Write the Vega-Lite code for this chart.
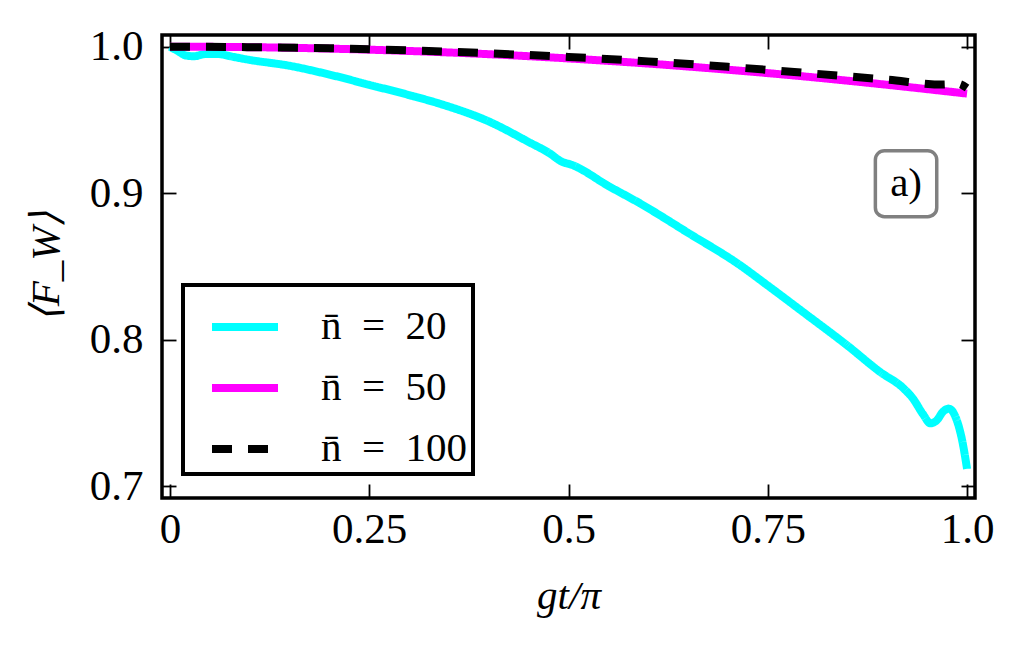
{
  "$schema": "https://vega.github.io/schema/vega-lite/v6.json",
  "width": 813,
  "height": 463,
  "autosize": {"type": "none"},
  "padding": {"left": 162, "top": 35, "right": 49, "bottom": 149},
  "background": "white",
  "config": {
    "view": {"stroke": "black", "strokeWidth": 3.5},
    "font": "Liberation Serif",
    "axis": {
      "grid": false,
      "domain": false,
      "tickColor": "black",
      "tickWidth": 1.8,
      "tickSize": -14,
      "labelFont": "Liberation Serif",
      "labelFontSize": 43,
      "labelColor": "black",
      "titleFont": "Liberation Serif",
      "titleFontSize": 41,
      "titleFontWeight": "normal",
      "titleFontStyle": "italic",
      "titleColor": "black"
    },
    "legend": {
      "strokeColor": "black",
      "strokeWidth": 4,
      "fillColor": "white",
      "padding": 5,
      "symbolOffset": 20,
      "labelOffset": 39,
      "rowPadding": 4,
      "symbolType": "stroke",
      "symbolSize": 4356,
      "symbolStrokeWidth": 8,
      "labelFont": "Liberation Serif",
      "labelFontSize": 41,
      "labelColor": "black",
      "labelLimit": 400
    }
  },
  "data": {
    "values": [
      {"series": "n̄ = 20", "t": 0.0, "F": 1.0},
      {"series": "n̄ = 20", "t": 0.01, "F": 0.997},
      {"series": "n̄ = 20", "t": 0.02, "F": 0.994},
      {"series": "n̄ = 20", "t": 0.03, "F": 0.9935},
      {"series": "n̄ = 20", "t": 0.045, "F": 0.995},
      {"series": "n̄ = 20", "t": 0.06, "F": 0.995},
      {"series": "n̄ = 20", "t": 0.08, "F": 0.993},
      {"series": "n̄ = 20", "t": 0.1, "F": 0.991},
      {"series": "n̄ = 20", "t": 0.15, "F": 0.987},
      {"series": "n̄ = 20", "t": 0.2, "F": 0.981},
      {"series": "n̄ = 20", "t": 0.25, "F": 0.974},
      {"series": "n̄ = 20", "t": 0.3, "F": 0.967},
      {"series": "n̄ = 20", "t": 0.339, "F": 0.961},
      {"series": "n̄ = 20", "t": 0.4, "F": 0.949},
      {"series": "n̄ = 20", "t": 0.45, "F": 0.935},
      {"series": "n̄ = 20", "t": 0.477, "F": 0.927},
      {"series": "n̄ = 20", "t": 0.49, "F": 0.922},
      {"series": "n̄ = 20", "t": 0.506, "F": 0.919},
      {"series": "n̄ = 20", "t": 0.55, "F": 0.905},
      {"series": "n̄ = 20", "t": 0.59, "F": 0.893},
      {"series": "n̄ = 20", "t": 0.65, "F": 0.873},
      {"series": "n̄ = 20", "t": 0.715, "F": 0.851},
      {"series": "n̄ = 20", "t": 0.75, "F": 0.837},
      {"series": "n̄ = 20", "t": 0.799, "F": 0.817},
      {"series": "n̄ = 20", "t": 0.85, "F": 0.796},
      {"series": "n̄ = 20", "t": 0.891, "F": 0.778},
      {"series": "n̄ = 20", "t": 0.92, "F": 0.767},
      {"series": "n̄ = 20", "t": 0.932, "F": 0.76},
      {"series": "n̄ = 20", "t": 0.945, "F": 0.749},
      {"series": "n̄ = 20", "t": 0.954, "F": 0.743},
      {"series": "n̄ = 20", "t": 0.962, "F": 0.745},
      {"series": "n̄ = 20", "t": 0.97, "F": 0.751},
      {"series": "n̄ = 20", "t": 0.977, "F": 0.753},
      {"series": "n̄ = 20", "t": 0.985, "F": 0.748},
      {"series": "n̄ = 20", "t": 0.994, "F": 0.731},
      {"series": "n̄ = 20", "t": 1.0, "F": 0.712},
      {"series": "n̄ = 50", "t": 0.0, "F": 1.0},
      {"series": "n̄ = 50", "t": 0.1, "F": 0.9997},
      {"series": "n̄ = 50", "t": 0.2, "F": 0.9987},
      {"series": "n̄ = 50", "t": 0.3, "F": 0.9971},
      {"series": "n̄ = 50", "t": 0.4, "F": 0.9949},
      {"series": "n̄ = 50", "t": 0.5, "F": 0.992},
      {"series": "n̄ = 50", "t": 0.6, "F": 0.9885},
      {"series": "n̄ = 50", "t": 0.7, "F": 0.9843},
      {"series": "n̄ = 50", "t": 0.8, "F": 0.9795},
      {"series": "n̄ = 50", "t": 0.9, "F": 0.974},
      {"series": "n̄ = 50", "t": 1.0, "F": 0.968},
      {"series": "n̄ = 100", "t": 0.0, "F": 1.0},
      {"series": "n̄ = 100", "t": 0.1, "F": 0.9997},
      {"series": "n̄ = 100", "t": 0.2, "F": 0.999},
      {"series": "n̄ = 100", "t": 0.3, "F": 0.9975},
      {"series": "n̄ = 100", "t": 0.4, "F": 0.9955},
      {"series": "n̄ = 100", "t": 0.5, "F": 0.993},
      {"series": "n̄ = 100", "t": 0.6, "F": 0.99},
      {"series": "n̄ = 100", "t": 0.7, "F": 0.9863},
      {"series": "n̄ = 100", "t": 0.8, "F": 0.982},
      {"series": "n̄ = 100", "t": 0.9, "F": 0.9775},
      {"series": "n̄ = 100", "t": 0.97, "F": 0.9742},
      {"series": "n̄ = 100", "t": 0.988, "F": 0.9748},
      {"series": "n̄ = 100", "t": 1.0, "F": 0.9718}
    ]
  },
  "layer": [
    {
      "mark": {"type": "line", "interpolate": "monotone", "strokeCap": "butt"},
      "encoding": {
        "x": {
          "field": "t", "type": "quantitative",
          "scale": {"domain": [-0.01, 1.01], "nice": false, "zero": false},
          "axis": {
            "orient": "bottom",
            "values": [0, 0.25, 0.5, 0.75, 1],
            "labelExpr": "datum.value == 0 ? '0' : datum.value == 1 ? '1.0' : format(datum.value, '~g')",
            "labelPadding": 24,
            "title": "gt/π",
            "titleY": 110,
            "titleBaseline": "alphabetic"
          }
        },
        "y": {
          "field": "F", "type": "quantitative",
          "scale": {"domain": [0.692, 1.008], "nice": false, "zero": false},
          "axis": {
            "orient": "left",
            "values": [0.7, 0.8, 0.9, 1.0],
            "format": ".1f",
            "labelPadding": 33,
            "title": "⟨F_W⟩",
            "titleX": -116,
            "titleY": 231,
            "titleBaseline": "middle"
          }
        },
        "color": {
          "field": "series", "type": "nominal",
          "scale": {"domain": ["n̄ = 20", "n̄ = 50", "n̄ = 100"], "range": ["#00ffff", "#ff00ff", "#000000"]},
          "legend": {"orient": "none", "legendX": 21, "legendY": 250, "title": null, "labelExpr": "replace(datum.label, ' = ', '\u2002=\u2002')"}
        },
        "strokeDash": {
          "field": "series", "type": "nominal",
          "scale": {"domain": ["n̄ = 20", "n̄ = 50", "n̄ = 100"], "range": [[1, 0], [1, 0], [20, 16]]},
          "legend": {"orient": "none", "legendX": 21, "legendY": 250, "title": null, "labelExpr": "replace(datum.label, ' = ', '\u2002=\u2002')"}
        },
        "strokeWidth": {
          "field": "series", "type": "nominal",
          "scale": {"domain": ["n̄ = 20", "n̄ = 50", "n̄ = 100"], "range": [8, 8, 8]},
          "legend": null
        },
        "order": {"field": "t", "type": "quantitative"}
      }
    },
    {
      "data": {"values": [{}]},
      "mark": {"type": "rect", "cornerRadius": 9, "fill": "white", "stroke": "#808080", "strokeWidth": 3.5},
      "encoding": {
        "x": {"datum": 0.885, "type": "quantitative", "axis": {"orient": "top", "values": [0, 0.25, 0.5, 0.75, 1], "labels": false, "title": null}},
        "x2": {"datum": 0.962},
        "y": {"datum": 0.929, "type": "quantitative", "axis": {"orient": "right", "values": [0.7, 0.8, 0.9, 1.0], "labels": false, "title": null}},
        "y2": {"datum": 0.884}
      }
    },
    {
      "data": {"values": [{}]},
      "mark": {"type": "text", "text": "a)", "fontSize": 41, "font": "Liberation Serif", "color": "black", "align": "center", "baseline": "middle"},
      "encoding": {
        "x": {"datum": 0.9235, "type": "quantitative", "axis": null},
        "y": {"datum": 0.9066, "type": "quantitative", "axis": null}
      }
    }
  ],
  "resolve": {"axis": {"x": "independent", "y": "independent"}}
}
